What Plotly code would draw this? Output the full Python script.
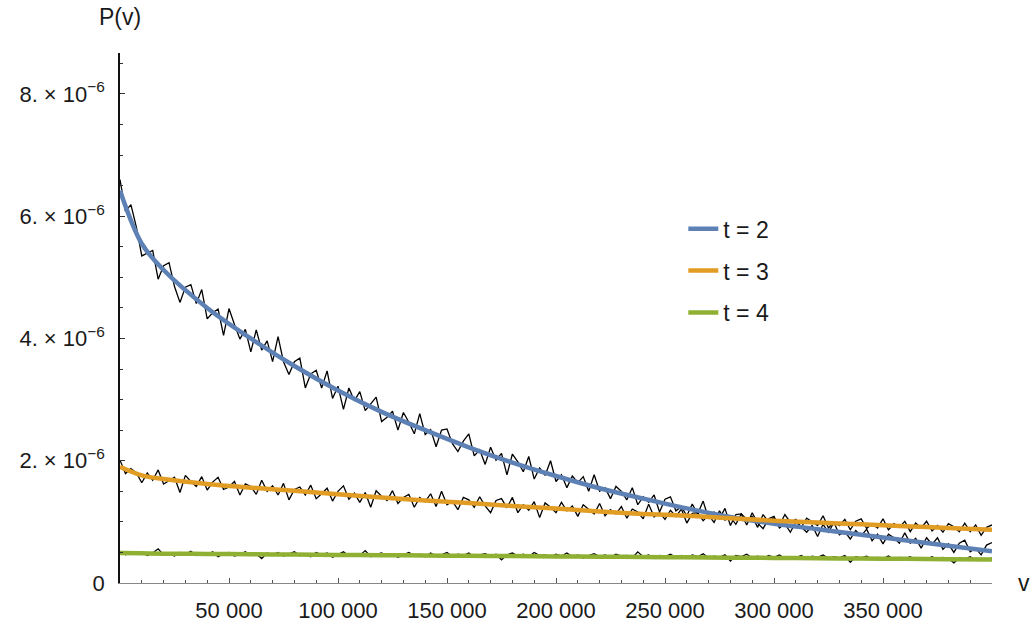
import plotly.graph_objects as go

# ---------------- data (values in units of 1e-6) ----------------
v_step = 2500
v_data = [i * v_step for i in range(161)]

noisy_t2 = [
    6.60, 6.08, 6.19, 5.82, 5.35, 5.39, 5.44, 4.97, 5.19, 5.24,
    4.85, 4.59, 4.84, 4.88, 4.57, 4.80, 4.32, 4.42, 4.48, 4.05,
    4.49, 4.23, 3.99, 4.15, 3.78, 4.14, 3.81, 3.96, 3.62, 4.03,
    3.62, 3.41, 3.62, 3.68, 3.19, 3.42, 3.48, 3.19, 3.47, 3.02,
    3.22, 2.84, 3.19, 2.98, 3.13, 2.82, 2.93, 3.04, 2.64, 2.71,
    2.81, 2.50, 2.79, 2.63, 2.44, 2.77, 2.43, 2.51, 2.23, 2.50,
    2.52, 2.28, 2.15, 2.32, 2.44, 2.08, 2.18, 1.94, 2.22, 2.01,
    2.12, 1.77, 2.11, 1.98, 1.82, 2.07, 1.70, 1.88, 1.76, 2.00,
    1.66, 1.77, 1.56, 1.75, 1.64, 1.74, 1.50, 1.77, 1.50, 1.56,
    1.38, 1.58, 1.50, 1.36, 1.56, 1.28, 1.41, 1.32, 1.44, 1.16,
    1.37, 1.41, 1.18, 1.25, 1.10, 1.29, 1.13, 1.34, 1.05, 1.16,
    1.05, 1.22, 0.94, 1.12, 1.13, 0.95, 1.15, 0.98, 0.89, 1.05,
    1.09, 0.90, 0.97, 0.83, 1.00, 0.92, 0.83, 0.94, 0.76, 0.96,
    0.83, 0.99, 0.79, 0.84, 0.72, 0.86, 0.77, 0.88, 0.69, 0.80,
    0.64, 0.80, 0.74, 0.65, 0.82, 0.65, 0.73, 0.57, 0.74, 0.63,
    0.74, 0.55, 0.64, 0.50, 0.65, 0.70, 0.51, 0.57, 0.46, 0.62,
    0.66,
]

noisy_t3 = [
    2.01, 1.79, 1.87, 1.80, 1.64, 1.80, 1.68, 1.85, 1.62, 1.67,
    1.73, 1.48, 1.76, 1.66, 1.58, 1.74, 1.52, 1.65, 1.73, 1.53,
    1.57, 1.66, 1.44, 1.62, 1.58, 1.45, 1.68, 1.50, 1.59, 1.44,
    1.63, 1.36, 1.53, 1.57, 1.44, 1.60, 1.38, 1.46, 1.55, 1.34,
    1.50, 1.59, 1.37, 1.47, 1.32, 1.48, 1.24, 1.51, 1.42, 1.35,
    1.51, 1.30, 1.40, 1.45, 1.24, 1.40, 1.33, 1.46, 1.25, 1.50,
    1.28, 1.34, 1.20, 1.40, 1.36, 1.24, 1.41, 1.26, 1.15, 1.35,
    1.38, 1.23, 1.40, 1.15, 1.28, 1.19, 1.33, 1.07, 1.31, 1.24,
    1.15, 1.32, 1.18, 1.26, 1.09, 1.28, 1.21, 1.13, 1.30, 1.10,
    1.20, 1.13, 1.25, 1.06, 1.21, 1.16, 1.05, 1.29, 1.08, 1.15,
    1.04, 1.19, 1.09, 1.21, 0.98, 1.14, 1.15, 1.02, 1.11, 0.99,
    1.18, 1.03, 1.08, 0.96, 1.13, 1.04, 1.09, 0.91, 1.12, 1.00,
    1.07, 0.94, 1.12, 0.99, 1.04, 0.91, 1.06, 1.00, 0.94, 1.10,
    0.90, 1.00, 0.94, 1.04, 0.87, 1.01, 1.05, 0.89, 0.97, 0.90,
    1.05, 0.87, 0.97, 0.91, 1.01, 0.84, 0.98, 0.90, 1.01, 0.85,
    0.94, 0.83, 0.97, 0.92, 0.84, 0.98, 0.84, 0.95, 0.78, 0.91,
    0.95,
]

noisy_t4 = [
    0.52, 0.46, 0.50, 0.47, 0.51, 0.45, 0.49, 0.56, 0.46, 0.48,
    0.44, 0.50, 0.47, 0.52, 0.45, 0.49, 0.46, 0.51, 0.43, 0.48,
    0.50, 0.44, 0.47, 0.51, 0.45, 0.48, 0.40, 0.49, 0.46, 0.50,
    0.44, 0.48, 0.51, 0.45, 0.47, 0.43, 0.50, 0.46, 0.49, 0.42,
    0.47, 0.51, 0.44, 0.48, 0.45, 0.53, 0.43, 0.47, 0.49, 0.44,
    0.48, 0.42, 0.46, 0.50, 0.45, 0.47, 0.43, 0.49, 0.44, 0.46,
    0.50, 0.43, 0.47, 0.45, 0.49, 0.42, 0.46, 0.48, 0.44, 0.47,
    0.38, 0.46, 0.49, 0.44, 0.47, 0.43, 0.50, 0.45, 0.46, 0.42,
    0.47, 0.44, 0.49, 0.43, 0.46, 0.41, 0.45, 0.48, 0.43, 0.46,
    0.42, 0.47, 0.44, 0.45, 0.41, 0.51, 0.43, 0.46, 0.40, 0.45,
    0.43, 0.47, 0.42, 0.45, 0.40, 0.46, 0.43, 0.48, 0.41, 0.44,
    0.42, 0.46, 0.36, 0.45, 0.43, 0.47, 0.41, 0.44, 0.39, 0.45,
    0.42, 0.46, 0.40, 0.43, 0.41, 0.45, 0.39, 0.44, 0.42, 0.46,
    0.40, 0.43, 0.41, 0.45, 0.34, 0.43, 0.41, 0.44, 0.39, 0.42,
    0.40, 0.44, 0.38, 0.42, 0.40, 0.43, 0.37, 0.41, 0.39, 0.43,
    0.38, 0.42, 0.40, 0.33, 0.41, 0.39, 0.43, 0.37, 0.40, 0.38,
    0.41,
]

v_fit = [0, 10000, 20000, 40000, 60000, 80000, 100000, 120000, 140000, 160000,
         180000, 200000, 220000, 240000, 260000, 280000, 300000, 320000, 340000,
         360000, 380000, 400000]
fit_t2 = [6.42, 5.55, 5.12, 4.50, 4.00, 3.55, 3.15, 2.80, 2.50, 2.22,
          1.97, 1.75, 1.55, 1.38, 1.22, 1.08, 0.97, 0.88, 0.79,
          0.70, 0.61, 0.52]
fit_t3 = [1.90, 1.76, 1.70, 1.62, 1.56, 1.51, 1.45, 1.40, 1.35, 1.31,
          1.26, 1.22, 1.17, 1.13, 1.10, 1.06, 1.02, 0.99, 0.96,
          0.93, 0.90, 0.87]
fit_t4 = [0.49, 0.485, 0.48, 0.475, 0.47, 0.465, 0.46, 0.455, 0.45, 0.445,
          0.44, 0.435, 0.43, 0.425, 0.42, 0.415, 0.41, 0.405, 0.40,
          0.395, 0.39, 0.385]

series_names = ["t = 2", "t = 3", "t = 4"]
colors = ["#5E81B5", "#E19C24", "#8FB032"]

x_tick_vals = [50000, 100000, 150000, 200000, 250000, 300000, 350000]
x_tick_text = ["50 000", "100 000", "150 000", "200 000", "250 000", "300 000", "350 000"]
y_tick_vals = [0, 2e-6, 4e-6, 6e-6, 8e-6]
y_tick_text = ["0", "2. × 10<sup>−6</sup>", "4. × 10<sup>−6</sup>",
               "6. × 10<sup>−6</sup>", "8. × 10<sup>−6</sup>"]

SCALE = 1e-6
FONT = "Liberation Sans, Arial, sans-serif"
TXT = "#1a1a1a"

fig = go.Figure()

for ys in [noisy_t2, noisy_t3, noisy_t4]:
    fig.add_trace(go.Scatter(
        x=v_data, y=[y * SCALE for y in ys], mode="lines",
        line=dict(color="black", width=1.3),
        showlegend=False, hoverinfo="skip"))

for name, ys, col in zip(series_names, [fit_t2, fit_t3, fit_t4], colors):
    fig.add_trace(go.Scatter(
        x=v_fit, y=[y * SCALE for y in ys], mode="lines", name=name,
        legendgroup=name,
        line=dict(color=col, width=4.5, shape="spline", smoothing=1.0)))

fig.update_layout(
    width=1030, height=625,
    margin=dict(l=120, r=38, t=53, b=42, autoexpand=False),
    plot_bgcolor="white", paper_bgcolor="white",
    font=dict(family=FONT, size=22, color=TXT),
    legend=dict(x=0.646, y=0.709, xanchor="left", yanchor="top",
                bgcolor="rgba(0,0,0,0)", itemwidth=30, tracegroupgap=9,
                font=dict(size=23, color=TXT)),
    annotations=[
        dict(text="P(v)", xref="paper", yref="paper", x=0.0, y=1.068,
             xanchor="center", yanchor="middle", showarrow=False,
             font=dict(size=23, color=TXT)),
        dict(text="v", xref="paper", yref="paper", x=1.037, y=0.0,
             xanchor="center", yanchor="middle", showarrow=False,
             font=dict(size=23, color=TXT)),
    ],
)

fig.update_xaxes(
    range=[0, 400000], showgrid=False, zeroline=False, automargin=False,
    showline=True, linecolor="#888888", linewidth=1.2,
    ticks="inside", ticklen=5, tickcolor="#555555", tickwidth=1,
    tickvals=x_tick_vals, ticktext=x_tick_text, ticklabelstandoff=7,
    minor=dict(ticks="inside", ticklen=3, dtick=10000, tick0=0,
               tickcolor="#555555", showgrid=False),
)
fig.update_yaxes(
    range=[0, 8.67e-6], showgrid=False, zeroline=False, automargin=False,
    showline=True, linecolor="#111111", linewidth=1.5,
    ticks="inside", ticklen=5, tickcolor="#333333", tickwidth=1,
    tickvals=y_tick_vals, ticktext=y_tick_text, ticklabelstandoff=9,
    minor=dict(ticks="inside", ticklen=3, dtick=0.5e-6, tick0=0,
               tickcolor="#333333", showgrid=False),
)

fig.write_html("out.html")
